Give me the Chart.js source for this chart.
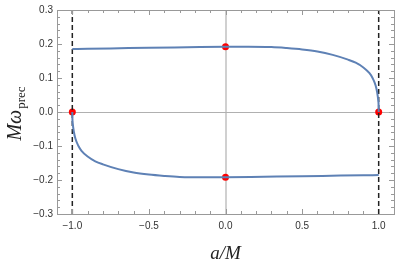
<!DOCTYPE html>
<html><head><meta charset="utf-8">
<script src="https://cdn.jsdelivr.net/npm/chart.js@4/dist/chart.umd.min.js"></script>
<style>html,body{margin:0;padding:0;background:#fff}#wrap{width:399px;height:263px;position:relative}</style>
</head><body><div id="wrap"><canvas id="c" width="399" height="263"></canvas></div>
<script>
// Data
const upperA = [-1.0,-0.9,-0.75,-0.5,-0.25,0.0,0.15,0.3,0.4,0.5,0.6,0.7,0.8,0.85,0.9,0.94,0.96,0.98,0.99,0.997,0.9995,1.0];
const upperW = [0.1855,0.186,0.187,0.189,0.1905,0.192,0.1922,0.191,0.188,0.184,0.178,0.168,0.154,0.145,0.131,0.114,0.100,0.078,0.058,0.035,0.018,0.0];
const lowerA = [-1.0,-0.9995,-0.997,-0.99,-0.98,-0.96,-0.94,-0.9,-0.85,-0.8,-0.7,-0.6,-0.5,-0.4,-0.3,-0.15,0.0,0.25,0.5,0.75,0.9,1.0];
const lowerW = [0.0,-0.018,-0.035,-0.058,-0.078,-0.100,-0.114,-0.131,-0.145,-0.154,-0.168,-0.178,-0.184,-0.188,-0.191,-0.1922,-0.192,-0.1905,-0.189,-0.187,-0.186,-0.1855];
const markA = [-1.0, 0.0, 0.0, 1.0];
const markW = [0.0, 0.192, -0.192, 0.0];
const extremalA = [-1.0, 1.0];
const xTickValues = [-1.0,-0.5,0.0,0.5,1.0];
const yTickValues = [-0.3,-0.2,-0.1,0.0,0.1,0.2,0.3];
const xRange = [-1.1, 1.1];
const yRange = [-0.3, 0.3];

const pts = (a, w) => a.map((v, i) => ({x: v, y: w[i]}));
const fmt = v => { const s = Number(v).toFixed(1); return s.startsWith('-') ? '\u2212' + s.slice(1) : s; };

const datasets = [
  {data: pts(upperA, upperW), borderColor:'#5e81b5', borderWidth:2, pointRadius:0, cubicInterpolationMode:'monotone', fill:false},
  {data: pts(lowerA, lowerW), borderColor:'#5e81b5', borderWidth:2, pointRadius:0, cubicInterpolationMode:'monotone', fill:false},
];
extremalA.forEach(a => datasets.push({data:[{x:a,y:yRange[0]},{x:a,y:yRange[1]}], borderColor:'#222', borderWidth:1.5, borderDash:[5,3], pointRadius:0, fill:false}));
datasets.push({data: pts(markA, markW), showLine:false, pointRadius:3.5, pointBackgroundColor:'#f00', pointBorderColor:'#f00', pointBorderWidth:0});

const framePlugin = {
  id:'frame',
  beforeDatasetsDraw(chart){
    const {ctx, chartArea:ca, scales:{x, y}} = chart;
    ctx.save();
    ctx.strokeStyle = '#d0d0d0'; ctx.lineWidth = 2;
    let px = Math.round(x.getPixelForValue(0));
    ctx.beginPath(); ctx.moveTo(px, ca.top); ctx.lineTo(px, ca.bottom); ctx.stroke();
    ctx.strokeStyle = '#b0b0b0'; ctx.lineWidth = 1;
    let py = Math.round(y.getPixelForValue(0)) + 0.5;
    ctx.beginPath(); ctx.moveTo(ca.left, py); ctx.lineTo(ca.right, py); ctx.stroke();
    ctx.restore();
  },
  afterDraw(chart){
    const {ctx, chartArea:ca, scales:{x, y}} = chart;
    ctx.save();
    ctx.strokeStyle = '#999'; ctx.lineWidth = 1;
    ctx.strokeRect(Math.round(ca.left)+0.5, Math.round(ca.top)+0.5, Math.round(ca.right-ca.left), Math.round(ca.bottom-ca.top));
    for (let i = -11; i <= 11; i++) {
      const v = i/10; const p = Math.round(x.getPixelForValue(v))+0.5;
      const L = (i % 5 === 0) ? 5 : 3;
      ctx.beginPath(); ctx.moveTo(p, ca.bottom); ctx.lineTo(p, ca.bottom-L);
      ctx.moveTo(p, ca.top); ctx.lineTo(p, ca.top+L); ctx.stroke();
    }
    for (let i = -15; i <= 15; i++) {
      const v = i/50; const p = Math.round(y.getPixelForValue(v))+0.5;
      const L = (i % 5 === 0) ? 5 : 3;
      ctx.beginPath(); ctx.moveTo(ca.left, p); ctx.lineTo(ca.left+L, p);
      ctx.moveTo(ca.right, p); ctx.lineTo(ca.right-L, p); ctx.stroke();
    }
    ctx.fillStyle = '#222';
    ctx.textBaseline = 'alphabetic';
    ctx.font = 'italic 19px "Liberation Serif", "DejaVu Serif", serif';
    ctx.textAlign = 'center';
    ctx.fillText('a/M', x.getPixelForValue(0), 259);
    ctx.translate(21, 114);
    ctx.rotate(-Math.PI/2);
    const f1 = 'italic 20px "Liberation Serif", "DejaVu Serif", serif';
    const f2 = '13px "Liberation Serif", "DejaVu Serif", serif';
    ctx.font = f1; const w1 = ctx.measureText('Mω').width;
    ctx.font = f2; const w2 = ctx.measureText('prec').width;
    const start = -(w1 + w2)/2;
    ctx.textAlign = 'left';
    ctx.font = f1; ctx.fillText('Mω', start, 0);
    ctx.font = f2; ctx.fillText('prec', start + w1 + 1, 4);
    ctx.restore();
  }
};

new Chart(document.getElementById('c'), {
  type:'line',
  data:{datasets},
  options:{
    responsive:false, animation:false, devicePixelRatio:1,
    layout:{padding:{top:8, right:5, left:0, bottom:0}},
    plugins:{legend:{display:false}, tooltip:{enabled:false}},
    scales:{
      x:{type:'linear', min:xRange[0], max:xRange[1],
        afterBuildTicks: s => { s.ticks = xTickValues.map(v => ({value:v})); },
        afterFit: s => { s.height = 49; },
        grid:{display:false, drawTicks:false}, border:{display:false},
        ticks:{callback: v => fmt(v), padding:6, color:'#333', font:{family:'"Liberation Sans", Arial, sans-serif', size:10}, maxRotation:0}},
      y:{type:'linear', min:yRange[0], max:yRange[1],
        afterBuildTicks: s => { s.ticks = yTickValues.map(v => ({value:v})); },
        afterFit: s => { s.width = 57; },
        grid:{display:false, drawTicks:false}, border:{display:false},
        ticks:{callback: v => fmt(v), padding:4, color:'#333', font:{family:'"Liberation Sans", Arial, sans-serif', size:10}}}
    }
  },
  plugins:[framePlugin]
});
</script></body></html>
